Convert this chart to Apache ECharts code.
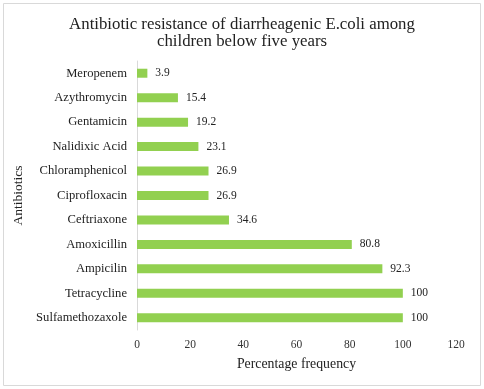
<!DOCTYPE html>
<html><head><meta charset="utf-8">
<script src="https://cdn.jsdelivr.net/npm/echarts@6/dist/echarts.min.js"></script>
<style>html,body{margin:0;padding:0;background:#fff}#c{width:484px;height:389px}</style>
</head><body><div id="c"></div>
<script>
const categories = ["Sulfamethozaxole","Tetracycline","Ampicilin","Amoxicillin","Ceftriaxone","Ciprofloxacin","Chloramphenicol","Nalidixic Acid","Gentamicin","Azythromycin","Meropenem"];
const values = [100,100,92.3,80.8,34.6,26.9,26.9,23.1,19.2,15.4,3.9];
const xTicks = [0,20,40,60,80,100,120];
const font = "'Liberation Serif','Times New Roman',serif";
const chart = echarts.init(document.getElementById('c'));
chart.setOption({
  animation:false,
  graphic:[{type:'rect',shape:{x:3.5,y:3.5,width:477,height:382},style:{fill:'none',stroke:'#d9d9d9',lineWidth:1}}],
  title:{text:'Antibiotic resistance of diarrheagenic E.coli among\nchildren below five years',left:'center',top:11,
    textStyle:{fontFamily:font,fontSize:16.8,fontWeight:'normal',color:'#222',lineHeight:17}},
  grid:{left:137,right:28,top:61,bottom:59},
  xAxis:{type:'value',min:0,max:120,interval:20,
    axisLine:{show:false},axisTick:{show:false},splitLine:{show:false},
    axisLabel:{fontFamily:font,fontSize:11.5,color:'#333',margin:9,formatter:v=>xTicks.includes(v)?String(v):''},
    name:'Percentage frequency',nameLocation:'middle',nameGap:27,
    nameTextStyle:{fontFamily:font,fontSize:13.8,color:'#222'}},
  yAxis:{type:'category',data:categories,
    axisLine:{show:true,lineStyle:{color:'#d9d9d9'}},axisTick:{show:false},
    axisLabel:{fontFamily:font,fontSize:12.6,color:'#222',margin:10},
    name:'Antibiotics',nameLocation:'middle',nameGap:109,nameRotate:90,
    nameTextStyle:{fontFamily:font,fontSize:13.5,color:'#222'}},
  series:[{type:'bar',data:values,barWidth:9,itemStyle:{color:'#92d050'},
    label:{show:true,position:'right',distance:8,fontFamily:font,fontSize:11.5,color:'#222'}}]
});
</script></body></html>
